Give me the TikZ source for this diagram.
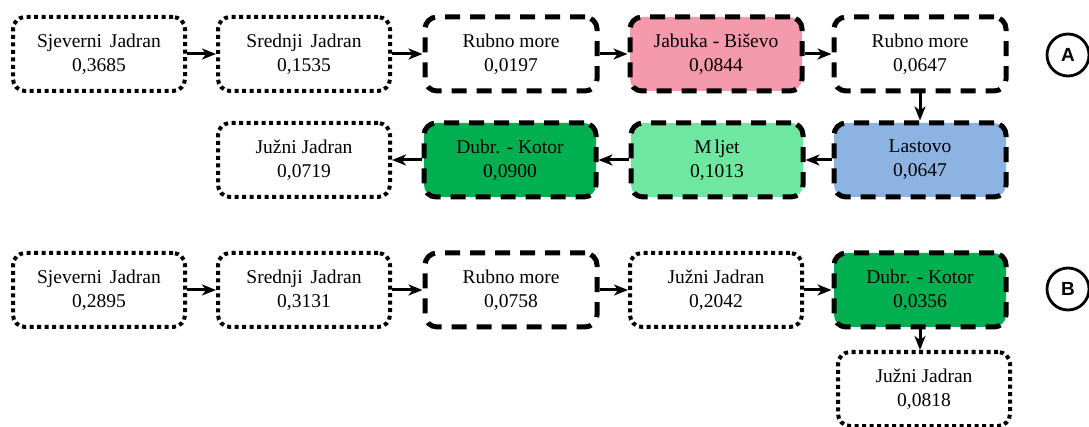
\documentclass[tikz,border=0pt]{standalone}
\usepackage{fontspec}
\setmainfont{Liberation Serif}
\newfontfamily\labelsans{Liberation Sans}
\usetikzlibrary{arrows.meta}
\definecolor{rosefill}{HTML}{F599AC}
\definecolor{skyfill}{HTML}{8DB3E2}
\definecolor{mintfill}{HTML}{6EE8A0}
\definecolor{greenfill}{HTML}{00B050}
\begin{document}
\begin{tikzpicture}[x=1pt,y=-1pt,
  box/.style={rounded corners=12pt, minimum width=172pt, minimum height=74pt,
    align=center, inner sep=0pt, font=\fontsize{19.5}{24}\selectfont},
  dotbox/.style={box, draw, line width=4pt, dash pattern=on 4pt off 3.5pt},
  dashbox/.style={box, draw, line width=5pt, dash pattern=on 15pt off 10pt},
  link/.style={-{Stealth[length=14pt,width=11pt,inset=4pt]}, line width=3pt},
  tag/.style={circle, draw, line width=2.8pt, minimum size=42pt, inner sep=0pt,
    font=\labelsans\bfseries\fontsize{19}{19}\selectfont}]
\useasboundingbox (0,0) rectangle (1089,427);

% series A, first row
\node[dotbox]  (a1) at (99,54)  {Sjeverni\hspace{3pt} Jadran\\0,3685};
\node[dotbox]  (a2) at (304,54) {Srednji\hspace{3pt} Jadran\\0,1535};
\node[dashbox] (a3) at (511,54) {Rubno more\\0,0197};
\node[dashbox, fill=rosefill] (a4) at (716,54) {Jabuka - Biševo\\0,0844};
\node[dashbox] (a5) at (920,54) {Rubno more\\0,0647};
\node[tag] (ta) at (1068,55) {A};

% series A, second row
\node[dashbox, fill=skyfill]   (a6) at (920,160) {Lastovo\\0,0647};
\node[dashbox, fill=mintfill]  (a7) at (717,160) {M\kern3pt ljet\\0,1013};
\node[dashbox, fill=greenfill] (a8) at (510,160) {Dubr. - Kotor\\0,0900};
\node[dotbox]  (a9) at (304,160) {Južni Jadran\\0,0719};

\draw[link] (a1) -- (a2);
\draw[link] (a2) -- (a3);
\draw[link] (a3) -- (a4);
\draw[link] (a4) -- (a5);
\draw[link] (a5) -- (a6);
\draw[link] (a6) -- (a7);
\draw[link] (a7) -- (a8);
\draw[link] (a8) -- (a9);

% series B
\node[dotbox]  (b1) at (99,290)  {Sjeverni\hspace{3pt} Jadran\\0,2895};
\node[dotbox]  (b2) at (304,290) {Srednji\hspace{3pt} Jadran\\0,3131};
\node[dashbox] (b3) at (511,290) {Rubno more\\0,0758};
\node[dotbox]  (b4) at (716,290) {Južni Jadran\\0,2042};
\node[dashbox, fill=greenfill] (b5) at (920,290) {Dubr. - Kotor\\0,0356};
\node[dotbox]  (b6) at (924,389) {Južni Jadran\\0,0818};
\node[tag] (tb) at (1068,289) {B};

\draw[link] (b1) -- (b2);
\draw[link] (b2) -- (b3);
\draw[link] (b3) -- (b4);
\draw[link] (b4) -- (b5);
\draw[link] (b5.south) -- (b5.south |- b6.north);
\end{tikzpicture}
\end{document}
